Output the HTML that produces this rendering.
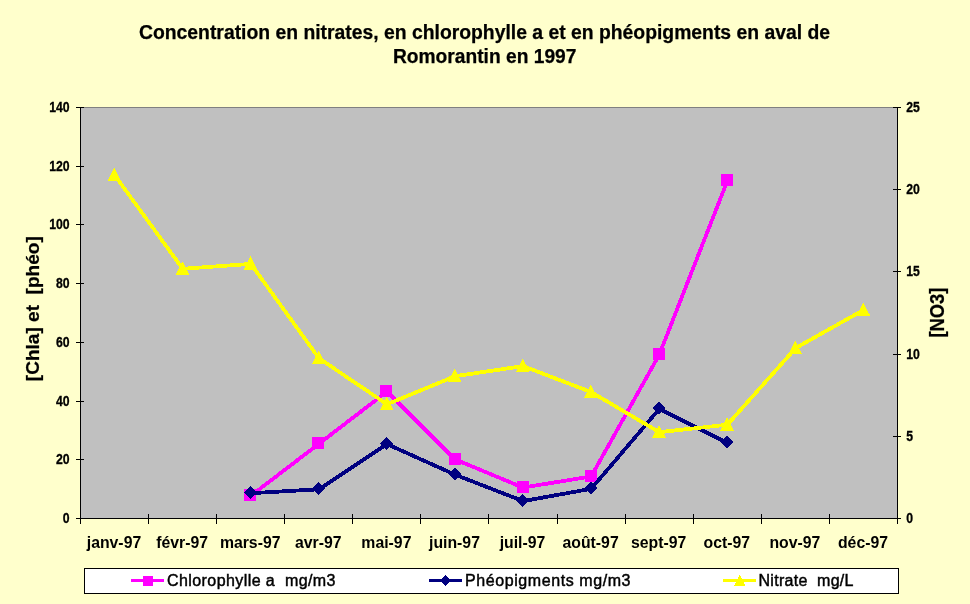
<!DOCTYPE html>
<html lang="fr"><head><meta charset="utf-8"><title>Concentration en nitrates</title>
<style>html,body{margin:0;padding:0;background:#ffffcc;overflow:hidden}svg{display:block}text{font-family:"Liberation Sans",Arial,sans-serif;fill:#000}</style>
</head><body>
<svg width="970" height="604" viewBox="0 0 970 604">
<rect x="0" y="0" width="970" height="604" fill="#ffffcc"/>
<g font-weight="bold" font-size="19.5" text-anchor="middle" stroke="#000" stroke-width="0.25">
<text x="484.5" y="39.2" textLength="691" lengthAdjust="spacingAndGlyphs">Concentration en nitrates, en chlorophylle a et en phéopigments en aval de</text>
<text x="484.7" y="63.2" textLength="183.5" lengthAdjust="spacingAndGlyphs">Romorantin en 1997</text>
</g>
<rect x="81" y="108" width="816" height="410" fill="#c0c0c0"/>
<g shape-rendering="crispEdges">
<rect x="80" y="107" width="818" height="1" fill="#808080"/>
<rect x="80" y="107" width="1" height="412" fill="#000"/>
<rect x="897" y="107" width="1" height="412" fill="#000"/>
<rect x="80" y="518" width="818" height="1" fill="#000"/>
<rect x="76" y="518" width="8" height="1" fill="#000"/>
<rect x="76" y="459" width="8" height="1" fill="#000"/>
<rect x="76" y="401" width="8" height="1" fill="#000"/>
<rect x="76" y="342" width="8" height="1" fill="#000"/>
<rect x="76" y="283" width="8" height="1" fill="#000"/>
<rect x="76" y="224" width="8" height="1" fill="#000"/>
<rect x="76" y="166" width="8" height="1" fill="#000"/>
<rect x="76" y="107" width="8" height="1" fill="#000"/>
<rect x="893" y="518" width="8" height="1" fill="#000"/>
<rect x="893" y="436" width="8" height="1" fill="#000"/>
<rect x="893" y="354" width="8" height="1" fill="#000"/>
<rect x="893" y="271" width="8" height="1" fill="#000"/>
<rect x="893" y="189" width="8" height="1" fill="#000"/>
<rect x="893" y="107" width="8" height="1" fill="#000"/>
<rect x="80" y="514" width="1" height="10" fill="#000"/>
<rect x="148" y="514" width="1" height="10" fill="#000"/>
<rect x="216" y="514" width="1" height="10" fill="#000"/>
<rect x="284" y="514" width="1" height="10" fill="#000"/>
<rect x="352" y="514" width="1" height="10" fill="#000"/>
<rect x="420" y="514" width="1" height="10" fill="#000"/>
<rect x="488" y="514" width="1" height="10" fill="#000"/>
<rect x="557" y="514" width="1" height="10" fill="#000"/>
<rect x="625" y="514" width="1" height="10" fill="#000"/>
<rect x="693" y="514" width="1" height="10" fill="#000"/>
<rect x="761" y="514" width="1" height="10" fill="#000"/>
<rect x="829" y="514" width="1" height="10" fill="#000"/>
<rect x="897" y="514" width="1" height="10" fill="#000"/>
</g>
<g font-weight="bold" font-size="14" text-anchor="end" stroke="#000" stroke-width="0.3">
<text x="69.6" y="522.5" textLength="6.8" lengthAdjust="spacingAndGlyphs">0</text>
<text x="69.6" y="463.5" textLength="13.6" lengthAdjust="spacingAndGlyphs">20</text>
<text x="69.6" y="405.5" textLength="13.6" lengthAdjust="spacingAndGlyphs">40</text>
<text x="69.6" y="346.5" textLength="13.6" lengthAdjust="spacingAndGlyphs">60</text>
<text x="69.6" y="287.5" textLength="13.6" lengthAdjust="spacingAndGlyphs">80</text>
<text x="69.6" y="228.5" textLength="20.4" lengthAdjust="spacingAndGlyphs">100</text>
<text x="69.6" y="170.5" textLength="20.4" lengthAdjust="spacingAndGlyphs">120</text>
<text x="69.6" y="111.5" textLength="20.4" lengthAdjust="spacingAndGlyphs">140</text>
</g>
<g font-weight="bold" font-size="14" text-anchor="start" stroke="#000" stroke-width="0.3">
<text x="906.2" y="522.5" textLength="6.8" lengthAdjust="spacingAndGlyphs">0</text>
<text x="906.2" y="440.5" textLength="6.8" lengthAdjust="spacingAndGlyphs">5</text>
<text x="906.2" y="358.5" textLength="13.6" lengthAdjust="spacingAndGlyphs">10</text>
<text x="906.2" y="275.5" textLength="13.6" lengthAdjust="spacingAndGlyphs">15</text>
<text x="906.2" y="193.5" textLength="13.6" lengthAdjust="spacingAndGlyphs">20</text>
<text x="906.2" y="111.5" textLength="13.6" lengthAdjust="spacingAndGlyphs">25</text>
</g>
<g font-weight="bold" font-size="15.8" text-anchor="middle">
<text x="114.0" y="547.6">janv-97</text>
<text x="182.1" y="547.6">févr-97</text>
<text x="250.2" y="547.6">mars-97</text>
<text x="318.3" y="547.6">avr-97</text>
<text x="386.4" y="547.6">mai-97</text>
<text x="454.5" y="547.6">juin-97</text>
<text x="522.5" y="547.6">juil-97</text>
<text x="590.6" y="547.6">août-97</text>
<text x="658.7" y="547.6">sept-97</text>
<text x="726.8" y="547.6">oct-97</text>
<text x="794.9" y="547.6">nov-97</text>
<text x="863.0" y="547.6">déc-97</text>
</g>
<text font-weight="bold" font-size="19" text-anchor="middle" stroke="#000" stroke-width="0.25" transform="translate(38.6,308.7) rotate(-90)" textLength="145" lengthAdjust="spacingAndGlyphs">[Chla] et&#160; [phéo]</text>
<text font-weight="bold" font-size="20" text-anchor="middle" stroke="#000" stroke-width="0.25" transform="translate(944,312.6) rotate(-90)" textLength="50" lengthAdjust="spacingAndGlyphs">[NO3]</text>
<g shape-rendering="crispEdges">
<polyline transform="translate(0.6,0.7)" fill="none" stroke="#ff00ff" stroke-width="3.8" stroke-linejoin="round" points="250.2,495.1 318.3,443.1 386.4,390.9 454.5,458.7 522.5,486.9 590.6,475.7 658.7,353.9 726.8,180.1"/>
<rect x="244.2" y="489.1" width="12" height="12" fill="#ff00ff"/>
<rect x="312.3" y="437.1" width="12" height="12" fill="#ff00ff"/>
<rect x="380.4" y="384.9" width="12" height="12" fill="#ff00ff"/>
<rect x="448.5" y="452.7" width="12" height="12" fill="#ff00ff"/>
<rect x="516.5" y="480.9" width="12" height="12" fill="#ff00ff"/>
<rect x="584.6" y="469.7" width="12" height="12" fill="#ff00ff"/>
<rect x="652.7" y="347.9" width="12" height="12" fill="#ff00ff"/>
<rect x="720.8" y="174.1" width="12" height="12" fill="#ff00ff"/>
<polyline transform="translate(0.6,0.7)" fill="none" stroke="#000080" stroke-width="3.8" stroke-linejoin="round" points="250.2,492.5 318.3,488.6 386.4,443.4 454.5,474.0 522.5,500.4 590.6,488.1 658.7,408.2 726.8,442.3"/>
<polygon points="250.2,486.0 256.7,492.5 250.2,499.0 243.7,492.5" fill="#000080"/>
<polygon points="318.3,482.1 324.8,488.6 318.3,495.1 311.8,488.6" fill="#000080"/>
<polygon points="386.4,436.9 392.9,443.4 386.4,449.9 379.9,443.4" fill="#000080"/>
<polygon points="454.5,467.5 461.0,474.0 454.5,480.5 448.0,474.0" fill="#000080"/>
<polygon points="522.5,493.9 529.0,500.4 522.5,506.9 516.0,500.4" fill="#000080"/>
<polygon points="590.6,481.6 597.1,488.1 590.6,494.6 584.1,488.1" fill="#000080"/>
<polygon points="658.7,401.7 665.2,408.2 658.7,414.7 652.2,408.2" fill="#000080"/>
<polygon points="726.8,435.8 733.3,442.3 726.8,448.8 720.3,442.3" fill="#000080"/>
<polyline transform="translate(0.6,0.7)" fill="none" stroke="#ffff00" stroke-width="3.8" stroke-linejoin="round" points="114.0,174.4 182.1,268.1 250.2,263.2 318.3,357.5 386.4,403.6 454.5,375.5 522.5,365.4 590.6,391.4 658.7,431.5 726.8,424.0 794.9,347.5 863.0,309.2"/>
<polygon points="114.3,167.6 121.2,181.0 107.4,181.0" fill="#ffff00"/>
<polygon points="182.4,261.3 189.3,274.7 175.5,274.7" fill="#ffff00"/>
<polygon points="250.5,256.4 257.4,269.8 243.6,269.8" fill="#ffff00"/>
<polygon points="318.6,350.7 325.5,364.1 311.7,364.1" fill="#ffff00"/>
<polygon points="386.7,396.8 393.6,410.2 379.8,410.2" fill="#ffff00"/>
<polygon points="454.8,368.7 461.7,382.1 447.9,382.1" fill="#ffff00"/>
<polygon points="522.8,358.6 529.7,372.0 515.9,372.0" fill="#ffff00"/>
<polygon points="590.9,384.6 597.8,398.0 584.0,398.0" fill="#ffff00"/>
<polygon points="659.0,424.7 665.9,438.1 652.1,438.1" fill="#ffff00"/>
<polygon points="727.1,417.2 734.0,430.6 720.2,430.6" fill="#ffff00"/>
<polygon points="795.2,340.7 802.1,354.1 788.3,354.1" fill="#ffff00"/>
<polygon points="863.3,302.4 870.2,315.8 856.4,315.8" fill="#ffff00"/>
</g>
<rect x="84.5" y="568.5" width="814" height="25" fill="#fff" stroke="#000" stroke-width="1" shape-rendering="crispEdges"/>
<g shape-rendering="crispEdges">
<rect x="131" y="579" width="33" height="3" fill="#ff00ff"/><rect x="142.5" y="575.5" width="10" height="10" fill="#ff00ff"/>
<rect x="429" y="579" width="33" height="3" fill="#000080"/><polygon points="445.5,575.0 451.0,580.5 445.5,586.0 440.0,580.5" fill="#000080"/>
<rect x="723" y="579" width="33" height="3" fill="#ffff00"/><polygon points="739.8,574.7 745.7,586.1 733.9,586.1" fill="#ffff00"/>
</g>
<g font-size="16" stroke="#000" stroke-width="0.45">
<text x="167" y="585.6" textLength="168.5" lengthAdjust="spacing">Chlorophylle a&#160; mg/m3</text>
<text x="465" y="585.6" textLength="165.5" lengthAdjust="spacing">Phéopigments mg/m3</text>
<text x="758.5" y="585.6" textLength="95" lengthAdjust="spacing">Nitrate&#160; mg/L</text>
</g>
</svg></body></html>
